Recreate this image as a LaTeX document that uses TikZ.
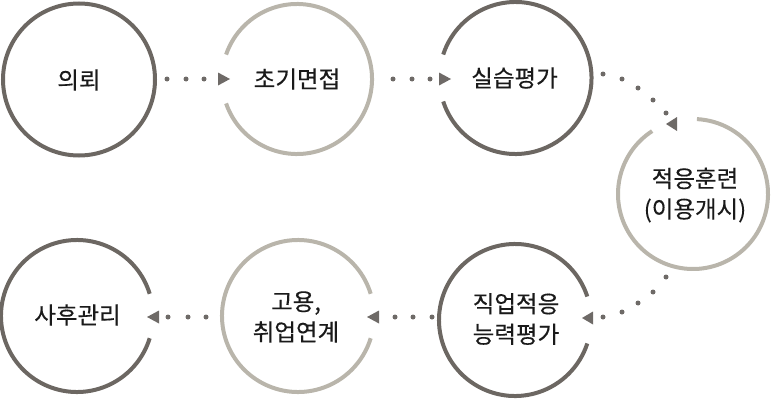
\documentclass[tikz,border=0pt]{standalone}
\usepackage{fontspec}
\newfontfamily\kr[FakeBold=0.35]{Noto Sans CJK KR}
\definecolor{ringdark}{HTML}{6C6762}
\definecolor{ringlight}{HTML}{B9B5AB}
\definecolor{dotc}{HTML}{6E6A67}
\definecolor{txt}{HTML}{1A1A1A}
\begin{document}
\begin{tikzpicture}[x=1pt,y=1pt,
  lbl/.style={font=\kr\fontsize{23.5}{30.5}\selectfont, text=txt, align=center, inner sep=0pt},
  darkring/.style={draw=ringdark, line width=4pt},
  lightring/.style={draw=ringlight, line width=4pt},
  dotmark/.style={fill=dotc},
  tipmark/.style={fill=dotc}]
\useasboundingbox (0,0) rectangle (773,400);
% centres
\coordinate (c1) at (79,320.5);
\coordinate (c2) at (297,321);
\coordinate (c3) at (515.5,322);
\coordinate (c4) at (693,206);
\coordinate (c5) at (515,80);
\coordinate (c6) at (298,84);
\coordinate (c7) at (77,84);
% rings
\draw[darkring] (c1) circle[radius=76];
\draw[lightring] (c2) ++(-161:75) arc[start angle=-161, end angle=161, radius=75];
\draw[darkring] (c3) ++(-162:76) arc[start angle=-162, end angle=162, radius=76];
\draw[lightring] (c4) ++(123:75) arc[start angle=123, end angle=447, radius=75];
\draw[darkring] (c5) ++(18:76) arc[start angle=18, end angle=342, radius=76];
\draw[lightring] (c6) ++(17:76) arc[start angle=17, end angle=343, radius=76];
\draw[darkring] (c7) ++(17:76) arc[start angle=17, end angle=343, radius=76];
% labels
\node[lbl] (n1) at (79,320) {의뢰};
\node[lbl] (n2) at (297,321) {초기면접};
\node[lbl] (n3) at (514.5,322) {실습평가};
\node[lbl] (n4) at (695,205) {적응훈련\\(이용개시)};
\node[lbl] (n5) at (516,81) {직업적응\\능력평가};
\node[lbl] (n6) at (296,83) {고용,\\취업연계};
\node[lbl] (n7) at (77.5,85) {사후관리};
% dotted connectors
\foreach \p in {(167,321),(186,321),(204,321),
                (393,321),(412,321),(430,321),
                (603,326),(622,321),(638,312),(653,300),(666,287),
                (666,123),(653,108),(638,97),(622,88),(603,83),
                (432,83),(413,83),(395,83),
                (206,83),(188,83),(168,83)}
  \fill[dotmark] \p circle[radius=2.5];
% arrow tips
\coordinate (t12) at (230,321);
\coordinate (t23) at (451,321);
\coordinate (t34) at (666,276);
\coordinate (t45) at (582,82);
\coordinate (t56) at (367,83);
\coordinate (t67) at (147,83);
\fill[tipmark] (t12) -- ++(-12,6.5) -- ++(0,-13) -- cycle;
\fill[tipmark] (t23) -- ++(-12,6.5) -- ++(0,-13) -- cycle;
\fill[tipmark] (t34) -- ++(11,7) -- ++(0,-14) -- cycle;
\fill[tipmark] (t45) -- ++(11,6.5) -- ++(0,-13) -- cycle;
\fill[tipmark] (t56) -- ++(12,6.5) -- ++(0,-13) -- cycle;
\fill[tipmark] (t67) -- ++(12,6.5) -- ++(0,-13) -- cycle;
\end{tikzpicture}
\end{document}
